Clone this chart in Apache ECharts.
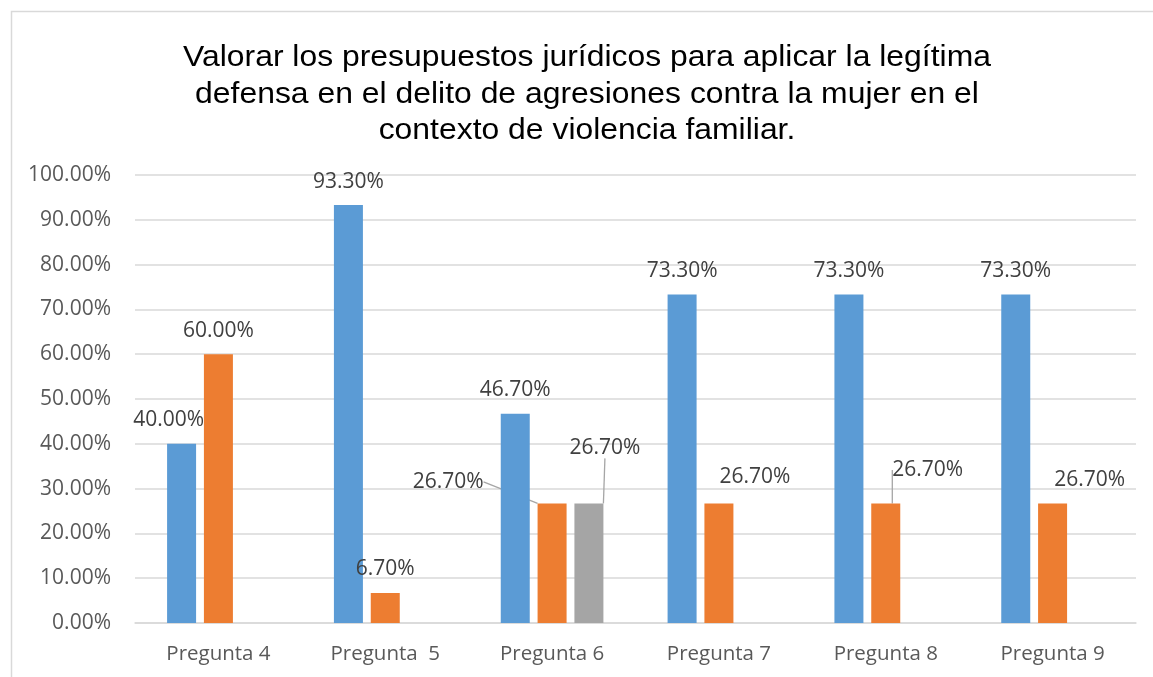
<!DOCTYPE html>
<html>
<head>
<meta charset="utf-8">
<title>Presupuestos jurídicos</title>
<script src="https://cdn.jsdelivr.net/npm/echarts@6/dist/echarts.min.js"></script>
<style>
    html, body { margin: 0; padding: 0; background: #fff; }
    #box { width: 1153px; height: 677px; }
</style>
</head>
<body>
<div id="box"></div>
<script>
/* datos */
let titulo = 'Valorar los presupuestos jurídicos para aplicar la legítima\ndefensa en el delito de agresiones contra la mujer en el\ncontexto de violencia familiar.';
let categorias = ['Pregunta 4', 'Pregunta  5', 'Pregunta 6', 'Pregunta 7', 'Pregunta 8', 'Pregunta 9'];
let serieAzul = [40.0, 93.3, 46.7, 73.3, 73.3, 73.3];
let serieNaranja = [60.0, 6.7, 26.7, 26.7, 26.7, 26.7];
let serieGris = [null, null, 26.7, null, null, null];
let ticksY = [0, 10, 20, 30, 40, 50, 60, 70, 80, 90, 100];

/* desplazamiento manual de etiquetas (como en Excel) */
let movAzul = { 0: [-13, 0] };
let movNaranja = { 2: [-104, 2], 3: [36, -3], 4: [42, -10], 5: [37, 0] };
let movGris = { 2: [16, -32] };
let conLinea = { naranja: [2, 4], gris: [2] };

let colores = ['#5B9BD5', '#ED7D31', '#A5A5A5'];

let fmt = function (v) {
    return Number(v).toFixed(2) + '%';
};

let armarDatos = function (valores, lineas) {
    return valores.map(function (v, i) {
        if (v === null) return null;
        let item = { value: v };
        if (lineas && lineas.indexOf(i) >= 0) {
            item.labelLine = { show: true };
        }
        return item;
    });
};

let moverEtiqueta = function (mov) {
    return function (p) {
        let d = mov[p.dataIndex];
        if (!d) return {};
        return { dx: d[0], dy: d[1] };
    };
};

let etiqueta = {
    show: true,
    position: 'top',
    distance: 13,
    color: '#404040',
    fontFamily: 'Open Sans',
    fontSize: 21,
    formatter: function (p) { return fmt(p.value); }
};

let linea = {
    show: false,
    lineStyle: { color: '#A6A6A6', width: 1.3 }
};

let myChart = echarts.init(document.getElementById('box'));
let options = {
    animation: false,
    color: colores,
    graphic: [
        {
            type: 'rect',
            shape: { x: 11.5, y: 11.5, width: 1160, height: 700 },
            style: { fill: 'none', stroke: '#D9D9D9', lineWidth: 1.5 },
            silent: true,
            z: -1
        },
        {
            /* título: el original está algo estirado a lo ancho */
            type: 'text',
            x: 587,
            y: 40,
            scaleX: 1.1,
            silent: true,
            style: {
                text: titulo,
                textAlign: 'center',
                textVerticalAlign: 'top',
                fontFamily: 'Liberation Sans',
                fontSize: 29,
                lineHeight: 36.5,
                fill: '#000'
            }
        }
    ],
    grid: {
        left: 135,
        right: 17,
        top: 175,
        bottom: 54,
        containLabel: false
    },
    xAxis: {
        type: 'category',
        data: categorias,
        axisTick: { show: false },
        axisLine: { lineStyle: { color: '#D9D9D9', width: 1.5 } },
        axisLabel: {
            color: '#595959',
            fontFamily: 'Open Sans',
            fontSize: 20.5,
            margin: 21
        }
    },
    yAxis: {
        type: 'value',
        min: ticksY[0],
        max: ticksY[ticksY.length - 1],
        interval: ticksY[1] - ticksY[0],
        axisLine: { show: false },
        axisTick: { show: false },
        splitLine: { lineStyle: { color: '#D9D9D9', width: 1.5 } },
        axisLabel: {
            color: '#595959',
            fontFamily: 'Open Sans',
            fontSize: 21,
            margin: 24,
            formatter: function (v) { return fmt(v); }
        }
    },
    series: [
        {
            name: 'Serie 1',
            type: 'bar',
            barWidth: 29,
            barGap: '27%',
            data: armarDatos(serieAzul),
            label: etiqueta,
            labelLine: linea,
            labelLayout: moverEtiqueta(movAzul)
        },
        {
            name: 'Serie 2',
            type: 'bar',
            barWidth: 29,
            barGap: '27%',
            data: armarDatos(serieNaranja, conLinea.naranja),
            label: etiqueta,
            labelLine: linea,
            labelLayout: moverEtiqueta(movNaranja)
        },
        {
            name: 'Serie 3',
            type: 'bar',
            barWidth: 29,
            barGap: '27%',
            data: armarDatos(serieGris, conLinea.gris),
            label: etiqueta,
            labelLine: linea,
            labelLayout: moverEtiqueta(movGris)
        }
    ]
};
myChart.setOption(options);
</script>
</body>
</html>
